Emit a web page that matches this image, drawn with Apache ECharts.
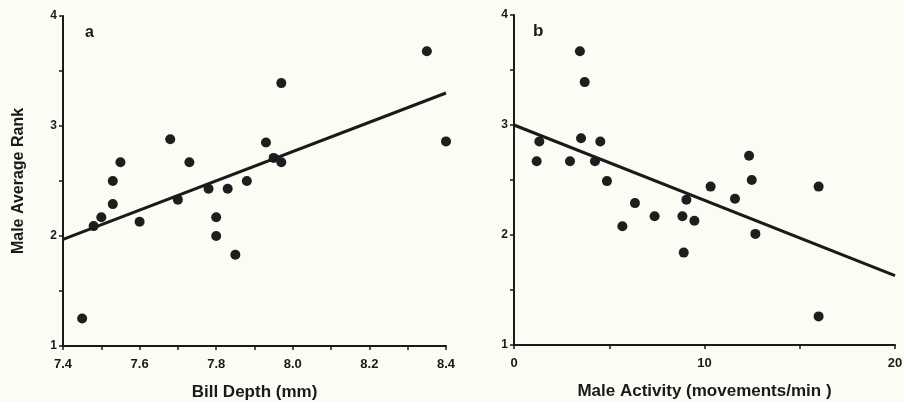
<!DOCTYPE html>
<html>
<head>
<meta charset="utf-8">
<script src="https://cdn.jsdelivr.net/npm/echarts@6/dist/echarts.min.js"></script>
<style>
  html, body { margin: 0; padding: 0; background: #fcfcf4; }
  #chart { width: 904px; height: 402px; }
</style>
</head>
<body>
<div id="chart"></div>
<script>
// panel a: bill depth vs male average rank
var billDepth = [7.45, 7.48, 7.50, 7.53, 7.53, 7.55, 7.60, 7.68, 7.70, 7.73, 7.78,
                 7.80, 7.80, 7.83, 7.85, 7.88, 7.93, 7.95, 7.97, 7.97, 8.35, 8.40]
var rankA = [1.25, 2.09, 2.17, 2.50, 2.29, 2.67, 2.13, 2.88, 2.33, 2.67, 2.43,
             2.17, 2.00, 2.43, 1.83, 2.50, 2.85, 2.71, 2.67, 3.39, 3.68, 2.86]
var fitA = [[7.4, 1.97], [8.4, 3.30]]

// panel b: male activity vs male average rank
var activity = [1.19, 1.33, 2.94, 3.46, 3.52, 3.71, 4.25, 4.53, 4.88, 5.69, 6.35, 7.38,
                8.84, 8.91, 9.05, 9.47, 10.32, 11.60, 12.34, 12.48, 12.67, 15.99, 15.99]
var rankB = [2.67, 2.85, 2.67, 3.67, 2.88, 3.39, 2.67, 2.85, 2.49, 2.08, 2.29, 2.17,
             2.17, 1.84, 2.32, 2.13, 2.44, 2.33, 2.72, 2.50, 2.01, 2.44, 1.26]
var fitB = [[0, 3.00], [20, 1.63]]

function pairs(xs, ys) {
    var out = []
    for (var i = 0; i < xs.length; i++) out.push([xs[i], ys[i]])
    return out
}

var ink = '#1a1a1a'
var font = 'Liberation Sans'

var axisCommon = {
    axisLine: { lineStyle: { color: ink, width: 2 } },
    axisTick: { show: true, inside: false, length: 4, lineStyle: { color: ink, width: 1.5 } },
    splitLine: { show: false },
    axisLabel: { color: ink, fontFamily: font, fontWeight: 'bold', fontSize: 13 },
    nameTextStyle: { color: ink, fontFamily: font, fontWeight: 'bold', fontSize: 17 }
}

function yAxisOf(idx, name) {
    return Object.assign({}, axisCommon, {
        type: 'value', gridIndex: idx, min: 1, max: 4, interval: 0.5,
        name: name, nameLocation: 'middle', nameGap: 36,
        nameTextStyle: Object.assign({}, axisCommon.nameTextStyle, { fontSize: 16 }),
        axisLabel: Object.assign({}, axisCommon.axisLabel, {
            fontSize: 12, margin: 6,
            formatter: function(v) { return v % 1 === 0 ? String(v) : '' }
        })
    })
}

var chart = echarts.init(document.getElementById('chart'))

var option = {
    backgroundColor: '#fcfcf4',
    animation: false,
    title: [
        { text: 'a', left: 80, top: 20, textStyle: { fontFamily: font, fontWeight: 'bold', fontSize: 16, color: ink } },
        { text: 'b', left: 528, top: 18, textStyle: { fontFamily: font, fontWeight: 'bold', fontSize: 17, color: ink } }
    ],
    grid: [
        { left: 63, right: 458, top: 16, bottom: 56, outerBoundsMode: 'none' },
        { left: 514, right: 9, top: 15, bottom: 57, outerBoundsMode: 'none' }
    ],
    xAxis: [
        Object.assign({}, axisCommon, {
            type: 'value', gridIndex: 0, min: 7.4, max: 8.4, interval: 0.1,
            name: 'Bill Depth (mm)', nameLocation: 'middle', nameGap: 38,
            axisLabel: Object.assign({}, axisCommon.axisLabel, {
                margin: 12,
                formatter: function(v) {
                    return Math.round(v * 10) % 2 === 0 ? v.toFixed(1) : ''
                }
            })
        }),
        Object.assign({}, axisCommon, {
            type: 'value', gridIndex: 1, min: 0, max: 20, interval: 5,
            name: 'Male Activity (movements/min )', nameLocation: 'middle', nameGap: 38,
            axisLabel: Object.assign({}, axisCommon.axisLabel, {
                margin: 12,
                formatter: function(v) { return v % 10 === 0 ? String(v) : '' }
            })
        })
    ],
    yAxis: [yAxisOf(0, 'Male Average Rank'), yAxisOf(1, '')],
    series: [
        {
            type: 'scatter', xAxisIndex: 0, yAxisIndex: 0,
            data: pairs(billDepth, rankA),
            symbolSize: 10, itemStyle: { color: '#1e1e1e', opacity: 1 }
        },
        {
            type: 'line', xAxisIndex: 0, yAxisIndex: 0, data: fitA,
            showSymbol: false, lineStyle: { color: ink, width: 3 }
        },
        {
            type: 'scatter', xAxisIndex: 1, yAxisIndex: 1,
            data: pairs(activity, rankB),
            symbolSize: 10, itemStyle: { color: '#1e1e1e', opacity: 1 }
        },
        {
            type: 'line', xAxisIndex: 1, yAxisIndex: 1, data: fitB,
            showSymbol: false, lineStyle: { color: ink, width: 3 }
        }
    ]
}

chart.setOption(option)
</script>
</body>
</html>
